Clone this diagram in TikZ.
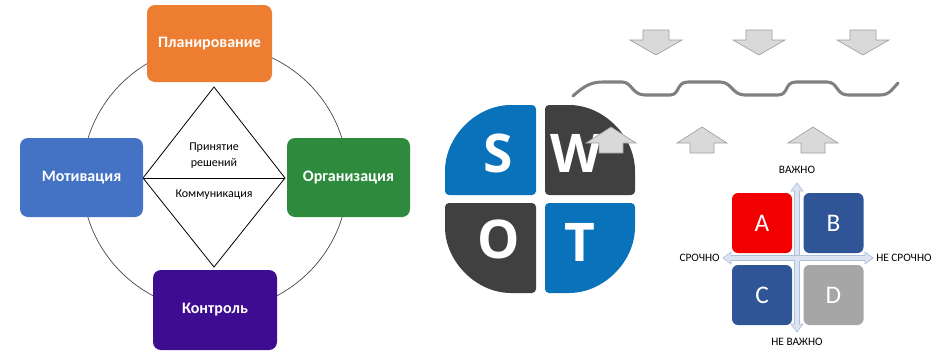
\documentclass[tikz,border=0pt]{standalone}
\usepackage{fontspec}
\setmainfont{Carlito}
\newfontfamily\swotfont{Open Sans}
\definecolor{cplan}{HTML}{ED7D31}
\definecolor{cmot}{HTML}{4472C4}
\definecolor{corg}{HTML}{2E8B3E}
\definecolor{cctl}{HTML}{3D0C91}
\definecolor{swblue}{HTML}{0A72BA}
\definecolor{swgray}{HTML}{404040}
\definecolor{arrfill}{HTML}{D9D9D9}
\definecolor{arrline}{HTML}{A0A0A0}
\definecolor{ered}{HTML}{F20000}
\definecolor{eblue}{HTML}{2F5597}
\definecolor{egray}{HTML}{A6A6A6}
\definecolor{axfill}{HTML}{DCE4F2}
\definecolor{axline}{HTML}{AEBFDA}
\def\px{0.75pt}
\tikzset{
  fbox/.style={rounded corners=8*\px, text=white, font=\fontsize{12}{14}\selectfont\bfseries, inner sep=0pt},
  smalltxt/.style={font=\fontsize{9}{11}\selectfont, inner sep=0pt},
  swletter/.style={text=white, font=\swotfont\fontsize{40}{40}\selectfont\bfseries, inner sep=0pt},
  ebox/.style={rounded corners=6*\px, minimum width=60*\px, minimum height=60*\px, text=white, font=\fontsize{19}{20}\selectfont, inner sep=0pt},
  elabel/.style={font=\fontsize{8.5}{10}\selectfont, inner sep=0pt},
  blockarrow/.style={fill=arrfill, draw=arrline, line width=0.5pt},
  wave/.style={draw=gray, line width=2.3pt, line cap=round, line join=round},
  axis/.style={fill=axfill, draw=axline, line width=0.5pt}
}
\begin{document}
\begin{tikzpicture}[x=0.75pt,y=-0.75pt]
\useasboundingbox (0,0) rectangle (947,354);
% ---------- left: management functions ----------
\coordinate (ctr) at (215,178);
\draw[line width=0.5pt, black!75] (ctr) circle (133);
\coordinate (dt) at (214,87);
\coordinate (dr) at (285,178);
\coordinate (db) at (214,267);
\coordinate (dl) at (143,178);
\draw[line width=0.6pt, fill=white] (dt) -- (dr) -- (db) -- (dl) -- cycle;
\draw[line width=0.6pt] (dl) -- (dr);
\node[smalltxt] (t1) at (214,148) {Принятие};
\node[smalltxt] (t2) at (214,163) {решений};
\node[smalltxt] (t3) at (214,195) {Коммуникация};
\node[fbox, fill=cplan, minimum width=125*\px, minimum height=77*\px] (plan) at (209.5,43.5) {Планирование};
\node[fbox, fill=cmot, minimum width=123*\px, minimum height=79*\px] (mot) at (81.5,177.5) {Мотивация};
\node[fbox, fill=corg, minimum width=123*\px, minimum height=79*\px] (org) at (348.5,177.5) {Организация};
\node[fbox, fill=cctl, minimum width=124*\px, minimum height=80*\px] (ctl) at (215,310) {Контроль};
% ---------- SWOT ----------
\fill[swblue, rounded corners=3] (536,195) -- (445,195) -- (445,175) arc[start angle=180, end angle=270, radius=70] -- (536,105) -- cycle;
\fill[swgray, rounded corners=3] (545,195) -- (545,105) -- (565,105) arc[start angle=270, end angle=360, radius=70] -- (635,195) -- cycle;
\fill[swgray, rounded corners=3] (536,203) -- (536,293) -- (515,293) arc[start angle=90, end angle=180, radius=70] -- (445,203) -- cycle;
\fill[swblue, rounded corners=3] (545,203) -- (635,203) -- (635,223) arc[start angle=0, end angle=90, radius=70] -- (545,293) -- cycle;
\node[swletter] (S) at (498,153) {S};
\node[swletter] (W) at (576,153) {W};
\node[swletter] (O) at (499,239) {O};
\node[swletter] (T) at (580,242) {T};
% ---------- wave and block arrows ----------
\draw[wave] (573,96) .. controls (585,85) and (592,82) .. (603,82) -- (622,82)
  .. controls (632,82) and (632,95) .. (645,95) -- (670,95)
  .. controls (680,95) and (676,82) .. (688,82) -- (720,82)
  .. controls (732,82) and (732,95) .. (745,95) -- (778,95)
  .. controls (789,95) and (784,82) .. (796,82) -- (827,82)
  .. controls (838,82) and (836,95) .. (848,95) -- (880,95)
  .. controls (890,95) and (893,88) .. (898,83);
\foreach \c in {656,759,863}{
  \draw[blockarrow] (\c-13,30) -- (\c+13,30) -- (\c+13,40) -- (\c+26,40) -- (\c,55) -- (\c-26,40) -- (\c-13,40) -- cycle;
}
\foreach \c in {611,702,813}{
  \draw[blockarrow] (\c-12,153) -- (\c+12,153) -- (\c+12,143) -- (\c+25,143) -- (\c,127) -- (\c-25,143) -- (\c-12,143) -- cycle;
}
% ---------- Eisenhower matrix ----------
\draw[axis] (797,183) -- (803,191) -- (799.5,191) -- (799.5,324) -- (803,324) -- (797,332) -- (791,324) -- (794.5,324) -- (794.5,191) -- (791,191) -- cycle;
\draw[axis] (723,258) -- (731,252) -- (731,255.5) -- (865,255.5) -- (865,252) -- (873,258) -- (865,264) -- (865,260.5) -- (731,260.5) -- (731,264) -- cycle;
\fill[axfill] (794.5,255.5) rectangle (799.5,260.5);
\node[ebox, fill=ered] (A) at (762,223) {A};
\node[ebox, fill=eblue] (B) at (833.5,223) {B};
\node[ebox, fill=eblue] (C) at (762,295) {C};
\node[ebox, fill=egray] (D) at (833.5,295) {D};
\node[elabel] (imp) at (797,170) {ВАЖНО};
\node[elabel] (nimp) at (797,342) {НЕ ВАЖНО};
\node[elabel, anchor=east] (urg) at (720,258) {СРОЧНО};
\node[elabel, anchor=west] (nurg) at (876,258) {НЕ СРОЧНО};
\end{tikzpicture}
\end{document}
